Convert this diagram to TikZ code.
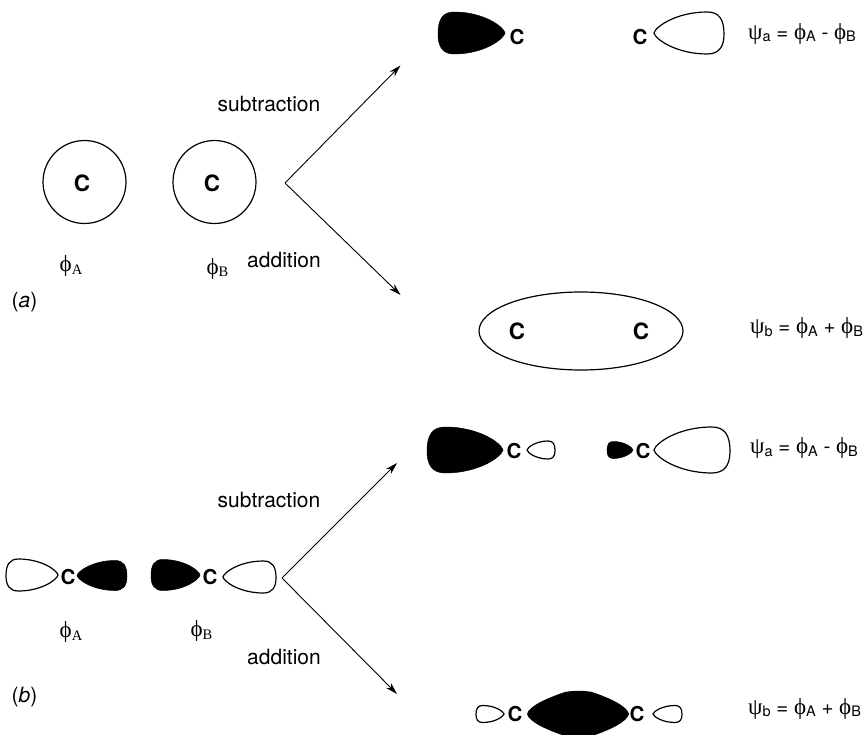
\documentclass[tikz,border=0pt]{standalone}
\usepackage{fontspec}
\setmainfont{TeX Gyre Heros}
\newfontfamily\symfont{Liberation Serif}
\usetikzlibrary{arrows.meta,shapes.geometric}
% tip x, tip y, signed length, half height, style
\newcommand{\lobe}[5]{%
  \path[#5,shift={(#1,#2)},xscale=#3,yscale=#4]
    (0,0) .. controls (.02,.30) and (.32,1) .. (.76,1)
    .. controls (.93,1) and (1,.65) .. (1,.05)
    .. controls (1,-.65) and (.93,-1) .. (.76,-1)
    .. controls (.32,-1) and (.02,-.30) .. (0,0) -- cycle;}
\newcommand{\bigsym}[1]{{\symfont\fontsize{23}{23}\selectfont #1}}
\newcommand{\phiA}{\bigsym{ϕ\raisebox{-2.5pt}{\fontsize{14.5}{15}\selectfont A}}}
\newcommand{\phiB}{\bigsym{ϕ\raisebox{-2.5pt}{\fontsize{14.5}{15}\selectfont B}}}
\newcommand{\subs}[1]{\raisebox{-2.5pt}{\fontsize{14.5}{15}\selectfont #1}}
\newcommand{\sA}{\bigsym{ϕ}\subs{A}}
\newcommand{\sB}{\bigsym{ϕ}\subs{B}}
\tikzset{
  txt/.style={inner sep=0pt,font=\fontsize{21}{22}\selectfont},
  atom/.style={inner sep=0pt,font=\fontsize{20.5}{21}\selectfont\bfseries},
  bigatom/.style={inner sep=0pt,font=\fontsize{22.5}{23}\selectfont\bfseries},
  wf/.style={inner sep=0pt,anchor=base west,font=\fontsize{20.5}{22}\selectfont},
  gr/.style={inner sep=0pt},
  open/.style={draw=black,line width=1.2pt,fill=white},
  solid lobe/.style={fill=black,draw=black,line width=.5pt},
  arr/.style={-{Stealth[length=12pt,width=7pt]},line width=.9pt}
}
\begin{document}
\begin{tikzpicture}[x=1pt,y=-1pt]
\useasboundingbox (0,0) rectangle (864,735);
\clip (0,0) rectangle (864,735);
% (a)
\node[circle,draw,line width=1.2pt,minimum size=83pt,inner sep=0pt] (ca) at (84.5,182) {};
\node[circle,draw,line width=1.2pt,minimum size=83pt,inner sep=0pt] (cb) at (214.5,182) {};
\node[bigatom] (c1) at (82,183) {C};
\node[bigatom] (c2) at (212,183) {C};
\node[gr] (pa) at (71,266) {\phiA};
\node[gr] (pb) at (217.5,268.5) {\phiB};
\node[txt] (sub1) at (269,104) {subtraction};
\node[txt] (add1) at (284,260) {addition};
\node[txt] (la) at (24.5,302) {(\textit{a})};
\coordinate (ap1) at (285,183);
\coordinate (t1) at (400.5,65.5);
\coordinate (t2) at (400.5,295);
\draw[arr] (ap1) -- (t1);
\draw[arr] (ap1) -- (t2);
\lobe{505}{33}{-67}{21}{solid lobe}
\node[atom] (c3) at (517,37) {C};
\node[atom] (c4) at (640,37) {C};
\lobe{654}{33}{70}{21}{open}
\node[wf] (w1) at (748,39.5) {\bigsym{ψ}\subs{a} = \sA\ - \sB};
\node[ellipse,draw,line width=1.2pt,minimum width=204pt,minimum height=78pt,inner sep=0pt] (el) at (581,331) {};
\node[bigatom] (c5) at (517,331) {C};
\node[bigatom] (c6) at (641,331) {C};
\node[wf] (w2) at (750,333.5) {\bigsym{ψ}\subs{b} = \sA\ + \sB};
% (b)
\lobe{58}{575}{-52}{16}{open}
\node[atom] (c7) at (68,577) {C};
\lobe{77}{575.5}{50}{15}{solid lobe}
\lobe{200}{575}{-49}{15.5}{solid lobe}
\node[atom] (c8) at (210,577) {C};
\lobe{223}{577}{53}{16}{open}
\node[gr] (pa2) at (71,632) {\phiA};
\node[gr] (pb2) at (201.5,631) {\phiB};
\node[txt] (sub2) at (269,500) {subtraction};
\node[txt] (add2) at (284,657) {addition};
\node[txt] (lb) at (24.5,697) {(\textit{b})};
\coordinate (ap2) at (282,578);
\coordinate (t3) at (397,463);
\coordinate (t4) at (397,694);
\draw[arr] (ap2) -- (t3);
\draw[arr] (ap2) -- (t4);
\lobe{503}{450}{-76}{23}{solid lobe}
\node[atom] (c9) at (514,451) {C};
\lobe{527}{450}{28}{9}{open}
\lobe{633}{450}{-26}{8.5}{solid lobe}
\node[atom] (c10) at (643,451) {C};
\lobe{654}{450}{76}{23}{open}
\node[wf] (w3) at (750,453.5) {\bigsym{ψ}\subs{a} = \sA\ - \sB};
\lobe{504}{714}{-28}{8.5}{open}
\node[atom] (c11) at (515,714) {C};
\fill[black] (527,714) .. controls (529,706) and (547,698) .. (565,692)
  .. controls (572,690.5) and (585,690.5) .. (592,692)
  .. controls (610,698) and (627,706) .. (629,714)
  .. controls (627,722) and (610,730) .. (592,736)
  .. controls (585,737.5) and (572,737.5) .. (565,736)
  .. controls (547,730) and (529,722) .. (527,714) -- cycle;
\node[atom] (c12) at (637,714) {C};
\lobe{653}{714}{29}{8.5}{open}
\node[wf] (w4) at (748,714) {\bigsym{ψ}\subs{b} = \sA\ + \sB};
\end{tikzpicture}
\end{document}
